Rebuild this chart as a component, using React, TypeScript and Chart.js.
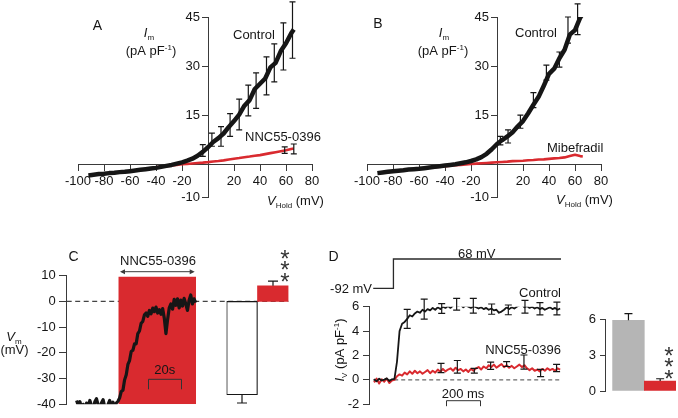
import React, { useEffect, useRef } from 'react';
import { Chart, registerables } from 'chart.js';

Chart.register(...registerables);

const FONT = "'Liberation Sans', Arial, Helvetica, sans-serif";
const RED = '#d92a2f';
const INK = '#161616';
const AXIS = '#3a3a3a';
const GRAY = '#b5b5b5';

// ---------------- Panel A : I-V, Control vs NNC55-0396 ----------------
const ivXTicks = [-100, -80, -60, -40, -20, 20, 40, 60, 80];
const ivYTicks = [-10, 15, 30, 45];

const aVolt = [-92, -88, -84, -80, -76, -72, -68, -64, -60, -56, -52, -48, -44, -40, -36, -32, -28, -24, -20, -16, -12, -8, -4, 0, 4, 8, 12, 16, 20, 24, 28, 32, 36, 40, 44, 48, 52, 56, 60, 64, 66];
const aControl = [-3.4, -3.2, -3.0, -2.9, -2.7, -2.6, -2.4, -2.3, -2.1, -1.9, -1.7, -1.5, -1.3, -1.1, -0.8, -0.5, -0.2, 0.2, 0.6, 1.1, 1.7, 2.6, 3.8, 5.2, 6.8, 8.0, 9.4, 11.4, 13.2, 15.2, 17.9, 19.6, 23.0, 24.6, 26.2, 29.6, 31.0, 34.6, 37.0, 40.0, 41.2];
const aNncVolt = [-40, -36, -32, -28, -24, -20, -16, -12, -8, -4, 0, 4, 8, 12, 16, 20, 24, 28, 32, 36, 40, 44, 48, 52, 56, 60, 64, 66];
const aNnc = [-0.9, -0.7, -0.55, -0.4, -0.2, 0.0, 0.1, 0.25, 0.4, 0.5, 0.65, 0.85, 1.0, 1.2, 1.45, 1.7, 1.9, 2.15, 2.35, 2.6, 2.8, 3.1, 3.4, 3.7, 4.0, 4.3, 4.65, 4.8];
const aCtrlErrV = [-4, 3, 10, 17, 24, 31, 37, 45, 51, 58, 65];
const aCtrlErrMean = [4.2, 7.5, 8.5, 12, 15.2, 19.5, 22.5, 27, 31, 36, 41];
const aCtrlErrSem = [1.8, 2, 3, 3.5, 4.7, 4.7, 5.4, 5.8, 5.8, 7.2, 8.6];
const aNncErrV = [59, 66];
const aNncErrMean = [4.3, 4.7];
const aNncErrSem = [1.0, 1.5];

// ---------------- Panel B : I-V, Control vs Mibefradil ----------------
const bVolt = [-92, -88, -84, -80, -76, -72, -68, -64, -60, -56, -52, -48, -44, -40, -36, -32, -28, -24, -20, -16, -12, -8, -4, 0, 4, 8, 12, 16, 20, 24, 28, 32, 36, 40, 44, 48, 52, 56, 60, 64, 66];
const bControl = [-2.7, -2.5, -2.3, -2.1, -1.95, -1.8, -1.6, -1.5, -1.4, -1.2, -1.0, -0.8, -0.6, -0.4, -0.2, 0.0, 0.3, 0.6, 1.0, 1.5, 2.2, 3.2, 4.6, 6.2, 7.4, 8.5, 9.8, 11.6, 13.2, 15.6, 18.2, 20.6, 24.0, 27.6, 29.2, 32.4, 35.0, 39.6, 41.0, 44.8, 46.0];
const bMibVolt = [-88, -84, -80, -76, -72, -68, -64, -60, -56, -52, -48, -44, -40, -36, -32, -28, -24, -20, -16, -12, -8, -4, 0, 4, 8, 12, 16, 20, 24, 28, 32, 36, 40, 44, 48, 52, 56, 60, 64, 66];
const bMib = [-2.6, -2.4, -2.2, -2.0, -1.8, -1.65, -1.5, -1.35, -1.2, -1.05, -0.9, -0.75, -0.6, -0.45, -0.3, -0.2, -0.05, 0.1, 0.2, 0.3, 0.4, 0.5, 0.6, 0.7, 0.8, 0.95, 1.0, 1.1, 1.25, 1.3, 1.45, 1.5, 1.65, 1.8, 1.9, 2.1, 2.5, 2.9, 2.5, 2.4];
const bCtrlErrV = [2.6, 8.5, 18, 28, 38, 48, 54.6, 62];
const bCtrlErrMean = [7.2, 8.5, 13, 19.6, 28, 32, 41, 44.3];
const bCtrlErrSem = [1.3, 2, 2, 2.3, 2.3, 2.3, 4, 4.7];

// ---------------- Panel C : membrane potential ----------------
const cYTicks = [-40, -30, -20, -10, 0, 10];
const cTimeStart = 6; // s
const cTimeStep = 1; // s
const cVm = [
  -38.5, -40.5, -39, -41.5, -40, -42.5, -39.5, -41, -38.5, -40.5,
  -42, -39, -37.8, -40.2, -41.8, -39.5, -38.2, -41, -42.8, -40,
  -38.5, -40.8, -39.2, -41.5, -39.5, -38.8,
  -37.5, -35, -34.5, -30.5, -28.5, -24.5, -23, -19.5, -19, -16.5,
  -16.5, -12.5, -11.5, -8.5, -7.8, -5.2, -4.5, -5.8, -3.5, -4.8,
  -2.6, -4, -2.2, -4.5, -3.2, -5, -2.8, -6.5, -12.5, -7,
  -2.5, -1, -3, 0.8, -1.5, 1, -2.5, 0.5, -1.8, 1.2,
  -1, -3.5, 0.5, 2.5, -1, 1, -0.5,
];
const cDrugOn = 31.2; // s
const cDrugOff = 78.2; // s
const cDrugTop = 9.6;
const cBarLabels = ['Control', 'NNC55-0396'];
const cBarMean = [-36.3, 6.1];
const cBarSem = [3.2, 1.8];

// ---------------- Panel D : step currents ----------------
const dYTicks = [-2, 0, 2, 4, 6];
const dTimeStart = -120; // ms
const dTimeStep = 15; // ms
const dControl = [
  0.05, -0.12, 0.1, -0.05, 0.02, 0.12, -0.1, 0.05, 0.08,
  1.5, 4.0, 4.6, 4.75, 5.0, 5.3, 5.2, 5.45, 5.6, 5.5,
  5.75, 5.6, 5.8, 5.7, 5.9, 5.75, 5.95, 5.8, 6.0, 5.9,
  6.05, 5.9, 6.1, 6.2, 6.05, 6.15, 5.95, 6.1, 6.0, 5.9,
  6.05, 5.95, 5.85, 5.95, 5.8, 5.9, 5.75, 5.85, 5.7, 5.75,
  5.5, 5.6, 5.75, 5.95, 5.8, 5.95, 5.85, 6.0, 6.1, 6.2,
  5.95, 6.05, 5.9, 6.0, 5.85, 5.95, 5.8, 5.9, 5.75, 5.85,
  5.95, 5.8, 5.9, 5.75, 5.85,
];
const dNnc = [
  -0.2, 0.1, -0.3, 0.05, -0.15, 0.1, -0.25, -0.05, 0.0,
  0.3, 0.45, 0.35, 0.6, 0.45, 0.7, 0.5, 0.75, 0.55, 0.7,
  0.5, 0.65, 0.8, 0.55, 0.75, 0.6, 0.85, 0.65, 0.9, 0.7,
  0.85, 0.95, 0.75, 1.0, 0.8, 0.9, 0.7, 0.85, 0.65, 0.9,
  0.75, 0.95, 1.05, 0.85, 1.1, 0.95, 1.2, 1.05, 1.25, 1.0,
  1.15, 1.3, 1.05, 1.2, 1.0, 1.15, 0.95, 1.1, 1.25, 1.05,
  1.2, 0.95, 0.8, 0.95, 0.75, 0.85, 0.7, 0.9, 0.75, 0.95,
  0.8, 0.9, 0.75, 0.95, 0.85,
];
const dCtrlErrT = [75, 175, 278, 366, 464, 572, 670, 768, 856, 956];
const dCtrlErrMean = [5.0, 5.8, 5.85, 6.2, 6.08, 5.8, 5.74, 6.0, 5.83, 5.85];
const dCtrlErrSem = [0.78, 0.82, 0.4, 0.48, 0.6, 0.42, 0.4, 0.52, 0.5, 0.52];
const dNncErrT = [274, 370, 470, 566, 660, 762, 860, 954];
const dNncErrMean = [0.98, 1.07, 0.75, 1.16, 1.3, 1.46, 0.57, 0.98];
const dNncErrSem = [0.38, 0.52, 0.2, 0.29, 0.2, 0.58, 0.3, 0.3];
const dProtoT = [-125, -6, -6, 980];
const dProtoMv = [-92, -92, 68, 68];
const dBarLabels = ['Control', 'NNC55-0396'];
const dBarYTicks = [0, 3, 6];
const dBarMean = [5.94, 0.84];
const dBarSem = [0.56, 0.19];

// ---------------- helpers ----------------
type Part = { t: string; italic?: boolean; sub?: boolean; sup?: boolean };
type Item =
  | { kind: 'text'; parts: Part[]; x: number; y: number; size?: number; align?: 'left' | 'center' | 'right'; rotate?: boolean }
  | { kind: 'poly'; pts: number[][]; width?: number; color?: string }
  | { kind: 'arrow2'; x1: number; x2: number; y: number }
  | { kind: 'scalebar'; v0: number; len: number; y: number; drop: number }
  | { kind: 'star'; x: number; y: number; size: number };

const txt = (s: string): Part[] => [{ t: s }];

function drawRich(ctx: CanvasRenderingContext2D, parts: Part[], x: number, y: number, size: number, align: string) {
  const small = Math.round(size * 0.64);
  const fontOf = (p: Part) => `${p.italic ? 'italic ' : ''}${p.sub || p.sup ? small : size}px ${FONT}`;
  let total = 0;
  for (const p of parts) {
    ctx.font = fontOf(p);
    total += ctx.measureText(p.t).width;
  }
  let cx = align === 'left' ? x : align === 'center' ? x - total / 2 : x - total;
  ctx.textAlign = 'left';
  ctx.textBaseline = 'alphabetic';
  ctx.fillStyle = INK;
  const base = y + size * 0.358;
  for (const p of parts) {
    ctx.font = fontOf(p);
    const dy = p.sub ? size * 0.24 : p.sup ? -size * 0.38 : 0;
    ctx.fillText(p.t, cx, base + dy);
    cx += ctx.measureText(p.t).width;
  }
}

function annotPlugin(ox: number, oy: number, items: Item[]) {
  return {
    id: 'annot',
    afterDraw(chart: any) {
      const ctx: CanvasRenderingContext2D = chart.ctx;
      ctx.save();
      ctx.translate(-ox, -oy);
      for (const it of items) {
        ctx.strokeStyle = AXIS;
        ctx.fillStyle = INK;
        ctx.lineWidth = 1;
        ctx.setLineDash([]);
        if (it.kind === 'text') {
          const size = it.size ?? 13;
          if (it.rotate) {
            ctx.save();
            ctx.translate(it.x, it.y);
            ctx.rotate(-Math.PI / 2);
            drawRich(ctx, it.parts, 0, 0, size, 'center');
            ctx.restore();
          } else {
            drawRich(ctx, it.parts, it.x, it.y, size, it.align ?? 'left');
          }
        } else if (it.kind === 'poly') {
          ctx.strokeStyle = it.color ?? AXIS;
          ctx.lineWidth = it.width ?? 1;
          ctx.beginPath();
          it.pts.forEach((p, i) => (i ? ctx.lineTo(p[0], p[1]) : ctx.moveTo(p[0], p[1])));
          ctx.stroke();
        } else if (it.kind === 'arrow2') {
          const h = 5;
          ctx.beginPath();
          ctx.moveTo(it.x1 + 2, it.y);
          ctx.lineTo(it.x2 - 2, it.y);
          ctx.stroke();
          ctx.fillStyle = AXIS;
          ctx.beginPath();
          ctx.moveTo(it.x1, it.y);
          ctx.lineTo(it.x1 + h, it.y - 2.5);
          ctx.lineTo(it.x1 + h, it.y + 2.5);
          ctx.closePath();
          ctx.fill();
          ctx.beginPath();
          ctx.moveTo(it.x2, it.y);
          ctx.lineTo(it.x2 - h, it.y - 2.5);
          ctx.lineTo(it.x2 - h, it.y + 2.5);
          ctx.closePath();
          ctx.fill();
        } else if (it.kind === 'scalebar') {
          const sx = chart.scales.x;
          const x0 = Math.round(sx.getPixelForValue(it.v0) + ox) + 0.5;
          const x1 = Math.round(sx.getPixelForValue(it.v0 + it.len) + ox) + 0.5;
          ctx.strokeStyle = '#333';
          ctx.lineWidth = 1;
          ctx.beginPath();
          ctx.moveTo(x0, it.y + it.drop);
          ctx.lineTo(x0, it.y);
          ctx.lineTo(x1, it.y);
          ctx.lineTo(x1, it.y + it.drop);
          ctx.stroke();
        } else if (it.kind === 'star') {
          ctx.font = `${it.size}px ${FONT}`;
          ctx.textAlign = 'center';
          ctx.textBaseline = 'alphabetic';
          ctx.fillStyle = '#333';
          ctx.fillText('*', it.x, it.y + it.size * 0.57);
        }
      }
      ctx.restore();
    },
  };
}

// Tick labels of a y axis that crosses the x axis at a value: drawn left of the tick marks.
function yLabelPlugin(axisAt: number, tickLen: number, pad: number) {
  return {
    id: 'ylabels',
    afterDraw(chart: any) {
      const ctx: CanvasRenderingContext2D = chart.ctx;
      const sy = chart.scales.y;
      const x = chart.scales.x.getPixelForValue(axisAt) - tickLen - pad;
      ctx.save();
      ctx.font = `13px ${FONT}`;
      ctx.fillStyle = INK;
      ctx.textAlign = 'right';
      ctx.textBaseline = 'middle';
      for (const t of sy.ticks) {
        ctx.fillText(String(t.value), x, sy.getPixelForValue(t.value));
      }
      ctx.restore();
    },
  };
}

type ErrSet = { xs: number[]; means: number[]; errs: number[]; color: string; cap: number; width?: number; dir?: 'both' | 'up' | 'down' };

function errPlugin(sets: ErrSet[]) {
  return {
    id: 'errbars',
    afterDatasetsDraw(chart: any) {
      const ctx: CanvasRenderingContext2D = chart.ctx;
      const sx = chart.scales.x;
      const sy = chart.scales.y;
      for (const s of sets) {
        ctx.save();
        ctx.strokeStyle = s.color;
        ctx.lineWidth = s.width ?? 1.2;
        s.xs.forEach((xv, i) => {
          const px = sx.getPixelForValue(xv);
          const m = s.means[i];
          const e = s.errs[i];
          const top = sy.getPixelForValue(s.dir === 'down' ? m : m + e);
          const bot = sy.getPixelForValue(s.dir === 'up' ? m : m - e);
          ctx.beginPath();
          ctx.moveTo(px, top);
          ctx.lineTo(px, bot);
          if (s.dir !== 'down') {
            ctx.moveTo(px - s.cap, top);
            ctx.lineTo(px + s.cap, top);
          }
          if (s.dir !== 'up') {
            ctx.moveTo(px - s.cap, bot);
            ctx.lineTo(px + s.cap, bot);
          }
          ctx.stroke();
        });
        ctx.restore();
      }
    },
  };
}

const fixedTicks = (values: number[]) => (scale: any) => {
  scale.ticks = values.map((v) => ({ value: v }));
};

function axisStyle(tickLen: number, pad: number, showLabels = true) {
  return {
    grid: { display: true, drawOnChartArea: false, drawTicks: true, tickLength: tickLen, color: AXIS, lineWidth: 1 },
    border: { display: true, color: AXIS, width: 1 },
    ticks: {
      display: showLabels,
      color: INK,
      font: { family: FONT, size: 13 },
      padding: pad,
      autoSkip: false,
      maxRotation: 0,
      minRotation: 0,
    },
  };
}

function baseOptions(padding: { left: number; right: number; top: number; bottom: number }) {
  return {
    responsive: false,
    maintainAspectRatio: false,
    animation: false,
    devicePixelRatio: 1,
    events: [],
    layout: { padding },
    plugins: { legend: { display: false }, tooltip: { enabled: false } },
  };
}

const xy = (xs: number[], ys: number[]) => xs.map((x, i) => ({ x, y: ys[i] }));
const series = (start: number, step: number, ys: number[]) => ys.map((y, i) => ({ x: start + i * step, y }));

const lineDs = (data: any[], color: string, width: number, order: number, extra: any = {}) => ({
  data,
  borderColor: color,
  borderWidth: width,
  pointRadius: 0,
  tension: 0,
  borderJoinStyle: 'round',
  fill: false,
  order,
  ...extra,
});

// ---------------- chart configs ----------------
function ivConfig(
  ox: number,
  pad: any,
  ctrlV: number[],
  ctrl: number[],
  drugV: number[],
  drug: number[],
  errs: ErrSet[],
  items: Item[]
) {
  return {
    type: 'line',
    data: {
      datasets: [lineDs(xy(ctrlV, ctrl), INK, 4.5, 0), lineDs(xy(drugV, drug), RED, 2.6, 1)],
    },
    options: {
      ...baseOptions(pad),
      scales: {
        x: { type: 'linear', min: -100, max: 80, position: { y: 0 }, afterBuildTicks: fixedTicks(ivXTicks), ...axisStyle(6, 3) },
        y: { type: 'linear', min: -10, max: 45, position: { x: 0 }, afterBuildTicks: fixedTicks(ivYTicks), ...axisStyle(6, 2, false) },
      },
    },
    plugins: [errPlugin(errs), yLabelPlugin(0, 6, 2), annotPlugin(ox, 0, items)],
  };
}

const configA = () =>
  ivConfig(
    0,
    { left: 78, right: 28, top: 17, bottom: 18 },
    aVolt,
    aControl,
    aNncVolt,
    aNnc,
    [
      { xs: aCtrlErrV, means: aCtrlErrMean, errs: aCtrlErrSem, color: INK, cap: 3 },
      { xs: aNncErrV, means: aNncErrMean, errs: aNncErrSem, color: INK, cap: 3 },
    ],
    [
      { kind: 'text', parts: txt('A'), x: 97.5, y: 25, size: 14, align: 'center' },
      { kind: 'text', parts: [{ t: 'I', italic: true }, { t: 'm', sub: true }], x: 149, y: 32, align: 'center' },
      { kind: 'text', parts: [{ t: '(pA pF' }, { t: '-1', sup: true }, { t: ')' }], x: 151, y: 50, align: 'center' },
      { kind: 'text', parts: txt('Control'), x: 233, y: 34.5 },
      { kind: 'text', parts: txt('NNC55-0396'), x: 245, y: 136 },
      { kind: 'text', parts: [{ t: 'V', italic: true }, { t: 'Hold', sub: true }, { t: ' (mV)' }], x: 267, y: 200 },
    ]
  );

const configB = () =>
  ivConfig(
    330,
    { left: 37, right: 77, top: 17, bottom: 18 },
    bVolt,
    bControl,
    bMibVolt,
    bMib,
    [{ xs: bCtrlErrV, means: bCtrlErrMean, errs: bCtrlErrSem, color: INK, cap: 3 }],
    [
      { kind: 'text', parts: txt('B'), x: 378, y: 23, size: 14, align: 'center' },
      { kind: 'text', parts: [{ t: 'I', italic: true }, { t: 'm', sub: true }], x: 444, y: 32, align: 'center' },
      { kind: 'text', parts: [{ t: '(pA pF' }, { t: '-1', sup: true }, { t: ')' }], x: 443, y: 50, align: 'center' },
      { kind: 'text', parts: txt('Control'), x: 515, y: 32 },
      { kind: 'text', parts: txt('Mibefradil'), x: 547, y: 147 },
      { kind: 'text', parts: [{ t: 'V', italic: true }, { t: 'Hold', sub: true }, { t: ' (mV)' }], x: 556, y: 199 },
    ]
  );

const configCTrace = () => ({
  type: 'line',
  data: {
    datasets: [
      lineDs(series(cTimeStart, cTimeStep, cVm), INK, 3.2, 0),
      lineDs(
        [
          { x: cDrugOn, y: cDrugTop },
          { x: cDrugOff, y: cDrugTop },
        ],
        RED,
        0,
        1,
        { fill: { value: -40 }, backgroundColor: RED }
      ),
      lineDs(
        [
          { x: 0, y: 0 },
          { x: 134, y: 0 },
        ],
        '#444',
        1.2,
        2,
        { borderDash: [5, 3.5] }
      ),
    ],
  },
  options: {
    ...baseOptions({ left: 66.7, right: 10, top: 35.7, bottom: 13.7 }),
    scales: {
      x: { type: 'linear', min: 0, max: 135, display: false },
      y: { type: 'linear', min: -40, max: 10, position: { x: 0 }, afterBuildTicks: fixedTicks(cYTicks), ...axisStyle(7, 4, false) },
    },
  },
  plugins: [
    yLabelPlugin(0, 7, 4),
    annotPlugin(0, 240, [
      { kind: 'text', parts: txt('C'), x: 73.5, y: 256, size: 14, align: 'center' },
      { kind: 'text', parts: txt('NNC55-0396'), x: 158, y: 260.5, align: 'center' },
      { kind: 'arrow2', x1: 120, x2: 194.7, y: 271.7 },
      { kind: 'scalebar', v0: 49.3, len: 20, y: 379.3, drop: 10 },
      { kind: 'text', parts: txt('20s'), x: 164.7, y: 369.5, align: 'center' },
      { kind: 'text', parts: [{ t: 'V', italic: true }, { t: 'm', sub: true }], x: 14, y: 336, align: 'center' },
      { kind: 'text', parts: txt('(mV)'), x: 14.5, y: 349, align: 'center' },
    ]),
  ],
});

const configCBars = () => ({
  type: 'bar',
  data: {
    labels: cBarLabels,
    datasets: [
      {
        data: cBarMean,
        backgroundColor: ['#ffffff', RED],
        borderColor: [INK, RED],
        borderWidth: [1.2, 0],
        borderSkipped: false,
        categoryPercentage: 1,
        barPercentage: 1,
      },
    ],
  },
  options: {
    ...baseOptions({ left: 4.5, right: 5.5, top: 35.7, bottom: 13.7 }),
    scales: {
      x: { type: 'category', display: false, offset: true },
      y: { type: 'linear', min: -40, max: 10, display: false },
    },
  },
  plugins: [
    errPlugin([
      { xs: [0], means: [cBarMean[0]], errs: [cBarSem[0]], color: INK, cap: 5, dir: 'down' },
      { xs: [1], means: [cBarMean[1]], errs: [cBarSem[1]], color: INK, cap: 5, dir: 'up' },
    ]),
    annotPlugin(222, 240, [
      { kind: 'star', x: 285, y: 253, size: 24 },
      { kind: 'star', x: 285, y: 264.5, size: 24 },
      { kind: 'star', x: 285, y: 276, size: 24 },
    ]),
  ],
});

const configDTrace = () => ({
  type: 'line',
  data: {
    datasets: [
      lineDs(series(dTimeStart, dTimeStep, dControl), INK, 1.8, 0),
      lineDs(series(dTimeStart, dTimeStep, dNnc), RED, 2, 1),
      lineDs(xy(dProtoT, dProtoMv), '#2a2a2a', 1.3, 2, { yAxisID: 'yv', clip: false, borderJoinStyle: 'miter' }),
      lineDs(
        [
          { x: -125, y: 0 },
          { x: 980, y: 0 },
        ],
        '#444',
        1,
        3,
        { borderDash: [4, 3] }
      ),
    ],
  },
  options: {
    ...baseOptions({ left: 49.3, right: 9, top: 66.7, bottom: 13.7 }),
    scales: {
      x: { type: 'linear', min: -148, max: 980, display: false },
      y: { type: 'linear', min: -2, max: 6, position: { x: -148 }, afterBuildTicks: fixedTicks(dYTicks), ...axisStyle(6, 4, false) },
      yv: { type: 'linear', min: -725.5, max: -192.5, display: false, position: 'right' },
    },
  },
  plugins: [
    errPlugin([
      { xs: dCtrlErrT, means: dCtrlErrMean, errs: dCtrlErrSem, color: INK, cap: 3.5 },
      { xs: dNncErrT, means: dNncErrMean, errs: dNncErrSem, color: INK, cap: 3.5 },
    ]),
    yLabelPlugin(-148, 6, 4),
    annotPlugin(320, 240, [
      { kind: 'text', parts: txt('D'), x: 333.5, y: 256, size: 14, align: 'center' },
      { kind: 'text', parts: txt('-92 mV'), x: 372, y: 288, align: 'right' },
      { kind: 'text', parts: txt('68 mV'), x: 476.7, y: 253, align: 'center' },
      { kind: 'text', parts: txt('Control'), x: 561, y: 292, align: 'right' },
      { kind: 'text', parts: txt('NNC55-0396'), x: 561, y: 349, align: 'right' },
      { kind: 'scalebar', v0: 301, len: 200, y: 400.7, drop: 5.5 },
      { kind: 'text', parts: txt('200 ms'), x: 463, y: 393.5, align: 'center' },
      {
        kind: 'text',
        parts: [{ t: 'I', italic: true }, { t: 'V', sub: true }, { t: ' (pA pF' }, { t: '-1', sup: true }, { t: ')' }],
        x: 339,
        y: 350,
        rotate: true,
      },
    ]),
  ],
});

const configDBars = () => ({
  type: 'bar',
  data: {
    labels: dBarLabels,
    datasets: [
      {
        data: dBarMean.map((v, i) => ({ x: i, y: v })),
        backgroundColor: [GRAY, RED],
        borderWidth: 0,
        categoryPercentage: 1,
        barPercentage: 1,
      },
    ],
  },
  options: {
    ...baseOptions({ left: 35, right: 2, top: 79.5, bottom: 27 }),
    scales: {
      x: { type: 'linear', min: -0.74, max: 1.5, display: false, offset: false },
      y: { type: 'linear', min: 0, max: 6, position: { x: -0.74 }, afterBuildTicks: fixedTicks(dBarYTicks), ...axisStyle(5, 4, false) },
    },
  },
  plugins: [
    errPlugin([{ xs: [0, 1], means: dBarMean, errs: dBarSem, color: INK, cap: 4, dir: 'up' }]),
    yLabelPlugin(-0.74, 5, 4),
    annotPlugin(570, 240, [
      { kind: 'star', x: 669, y: 350, size: 24 },
      { kind: 'star', x: 669, y: 361.7, size: 24 },
      { kind: 'star', x: 669, y: 373.3, size: 24 },
    ]),
  ],
});

// ---------------- components ----------------
function ChartCanvas(props: { left: number; top: number; width: number; height: number; make: () => any }) {
  const ref = useRef<HTMLCanvasElement | null>(null);
  useEffect(() => {
    if (!ref.current) return;
    const chart = new Chart(ref.current, props.make());
    return () => chart.destroy();
  }, []);
  return (
    <canvas
      ref={ref}
      width={props.width}
      height={props.height}
      style={{ position: 'absolute', left: props.left, top: props.top, width: props.width, height: props.height }}
    />
  );
}

export default function App() {
  return (
    <div style={{ position: 'absolute', left: 0, top: 0, width: 678, height: 418, background: '#ffffff', overflow: 'hidden' }}>
      <ChartCanvas left={0} top={0} width={340} height={215} make={configA} />
      <ChartCanvas left={330} top={0} width={348} height={215} make={configB} />
      <ChartCanvas left={0} top={240} width={300} height={178} make={configCTrace} />
      <ChartCanvas left={222} top={240} width={72} height={178} make={configCBars} />
      <ChartCanvas left={320} top={240} width={250} height={178} make={configDTrace} />
      <ChartCanvas left={570} top={240} width={108} height={178} make={configDBars} />
    </div>
  );
}
